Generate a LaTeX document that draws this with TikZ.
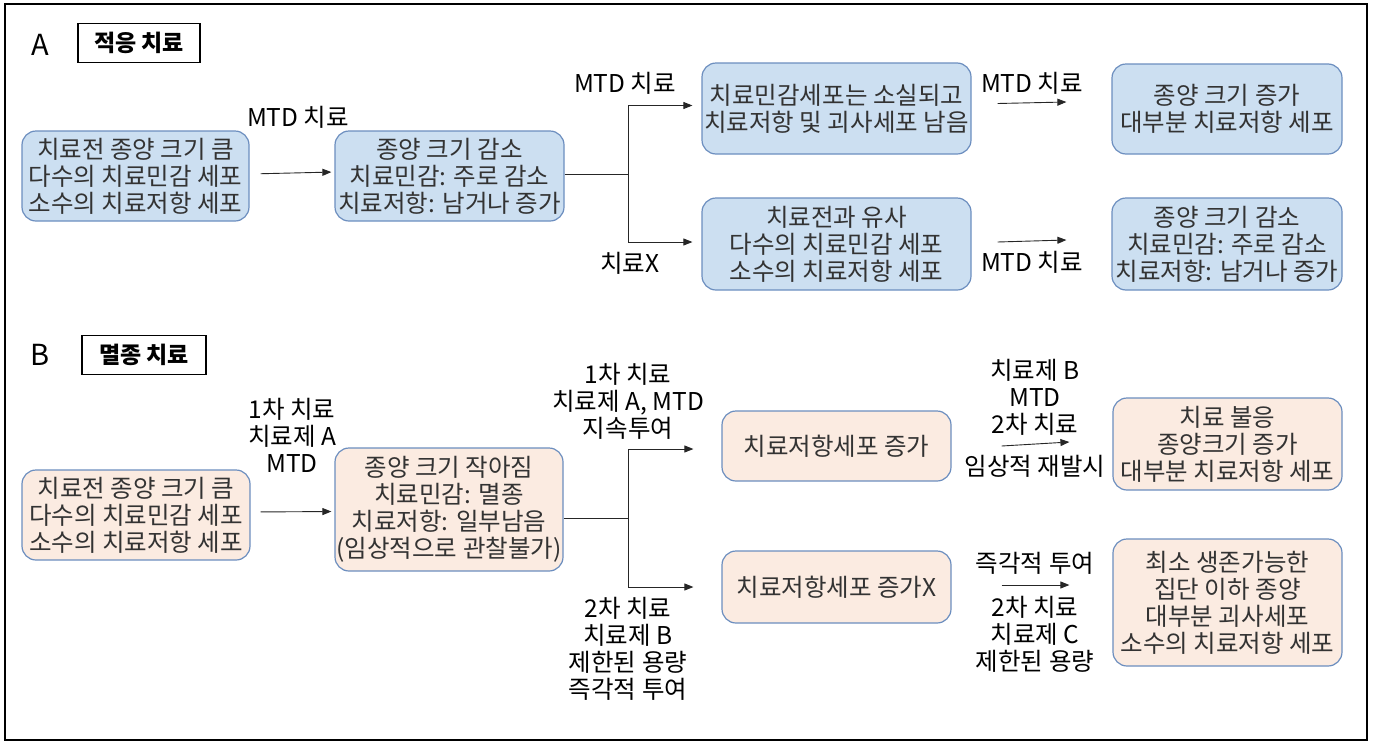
\documentclass[tikz,border=0pt]{standalone}
\usepackage{fontspec}
\setmainfont{Noto Sans CJK KR}
\usetikzlibrary{arrows.meta}
\definecolor{bfill}{HTML}{CCDFF1}
\definecolor{pfill}{HTML}{FBEBE1}
\definecolor{bdraw}{HTML}{6C8EBF}
\definecolor{btext}{HTML}{333333}
\begin{document}
\begin{tikzpicture}[x=1pt,y=-1pt,
  every node/.style={font=\fontsize{24.5}{27}\selectfont},
  boxA/.style={draw=bdraw,fill=bfill,line width=1.2pt,rounded corners=14pt,text=btext,align=center,inner sep=0pt,minimum width=228pt,minimum height=90pt},
  boxB/.style={boxA,fill=pfill},
  hdr/.style={draw=black,line width=1.3pt,inner sep=0pt,font=\fontsize{23}{27}\selectfont\bfseries},
  lbl/.style={align=center,inner sep=0pt,text=black},
  sec/.style={inner sep=0pt,font=\fontsize{29}{30}\selectfont},
  arr/.style={draw=black!85,line width=0.9pt,-{Triangle[length=9pt,width=7pt]}},
  ln/.style={draw=black!85,line width=0.9pt}]
\useasboundingbox (0,0) rectangle (1376,742);
\draw[line width=2pt] (5,4) rectangle (1367,740);

% Section A
\node[sec] (labA) at (40,45) {A};
\node[hdr,minimum width=122pt,minimum height=39pt] (hA) at (139,43) {적응 치료};
\node[boxA,minimum width=227pt] (A1) at (135.5,176) {치료전 종양 크기 큼\\다수의 치료민감 세포\\소수의 치료저항 세포};
\node[boxA,minimum width=229pt] (A2) at (449.5,176) {종양 크기 감소\\치료민감: 주로 감소\\치료저항: 남거나 증가};
\node[boxA,minimum width=269pt,minimum height=91pt] (A3) at (836.5,108.5) {치료민감세포는 소실되고\\치료저항 및 괴사세포 남음};
\node[boxA,minimum width=269pt,minimum height=92pt] (A4) at (836.5,244) {치료전과 유사\\다수의 치료민감 세포\\소수의 치료저항 세포};
\node[boxA,minimum width=230pt,minimum height=90pt] (A5) at (1227,109) {종양 크기 증가\\대부분 치료저항 세포};
\node[boxA,minimum width=230pt,minimum height=92pt] (A6) at (1227,244) {종양 크기 감소\\치료민감: 주로 감소\\치료저항: 남거나 증가};

\node[lbl] (lA12) at (298,117) {MTD 치료};
\draw[arr,shorten <=11pt,shorten >=3pt] ([yshift=2pt]A1.east) -- ([yshift=4pt]A2.west);
\coordinate (fA) at (628,174);
\draw[ln] ([yshift=2pt]A2.east) -- (fA);
\draw[arr,shorten >=9pt] (fA) |- ([yshift=3pt]A3.west);
\draw[arr,shorten >=9pt] (fA) |- ([yshift=2pt]A4.west);
\node[lbl] (lA23) at (625,83) {MTD 치료};
\node[lbl] (lA24) at (630,263) {치료X};
\draw[arr] ([xshift=26pt,yshift=5pt]A3.east) -- ([xshift=-45pt,yshift=7pt]A5.west);
\node[lbl] (lA35) at (1032,83) {MTD 치료};
\draw[arr] ([xshift=26pt,yshift=2pt]A4.east) -- ([xshift=-45pt,yshift=4pt]A6.west);
\node[lbl] (lA46) at (1032,262) {MTD 치료};

% Section B
\node[sec] (labB) at (40,355) {B};
\node[hdr,minimum width=124pt,minimum height=39pt] (hB) at (144,355) {멸종 치료};
\node[boxB,minimum width=228pt] (B1) at (136,515) {치료전 종양 크기 큼\\다수의 치료민감 세포\\소수의 치료저항 세포};
\node[boxB,minimum width=228pt,minimum height=123pt] (B2) at (449,509.5) {종양 크기 작아짐\\치료민감: 멸종\\치료저항: 일부남음\\(임상적으로 관찰불가)};
\node[boxB,minimum width=229pt,minimum height=70pt] (B3) at (836.5,446) {치료저항세포 증가};
\node[boxB,minimum width=229pt,minimum height=72pt] (B4) at (836.5,587) {치료저항세포 증가X};
\node[boxB,minimum width=229pt,minimum height=92pt] (B5) at (1227.5,444) {치료 불응\\종양크기 증가\\대부분 치료저항 세포};
\node[boxB,minimum width=229pt,minimum height=127pt] (B6) at (1227.5,602.5) {최소 생존가능한\\집단 이하 종양\\대부분 괴사세포\\소수의 치료저항 세포};

\node[lbl] (lB12) at (292,435) {1차 치료\\치료제 A\\MTD};
\draw[arr,shorten <=10pt,shorten >=3pt] ([yshift=3pt]B1.east) -- ([yshift=-2pt]B2.west);
\coordinate (fB) at (628,518);
\draw[ln] (B2.east |- fB) -- (fB);
\draw[arr,shorten >=28pt] (fB) |- ([yshift=-3pt]B3.west);
\draw[arr,shorten >=28pt] (fB) |- (B4.west);
\node[lbl] (lB23) at (628,401) {1차 치료\\치료제 A, MTD\\지속투여};
\node[lbl] (lB24) at (628,649) {2차 치료\\치료제 B\\제한된 용량\\즉각적 투여};
\draw[arr] ([xshift=50pt]B3.east) -- ([xshift=-43pt,yshift=2pt]B5.west);
\node[lbl] (lB35) at (1035,397) {치료제 B\\MTD\\2차 치료};
\node[lbl] (lB35b) at (1035,466) {임상적 재발시};
\draw[arr] ([xshift=50pt,yshift=2pt]B4.east) -- ([xshift=-43pt,yshift=17.5pt]B6.west);
\node[lbl] (lB46) at (1035,563) {즉각적 투여};
\node[lbl] (lB46b) at (1035,634) {2차 치료\\치료제 C\\제한된 용량};
\end{tikzpicture}
\end{document}
